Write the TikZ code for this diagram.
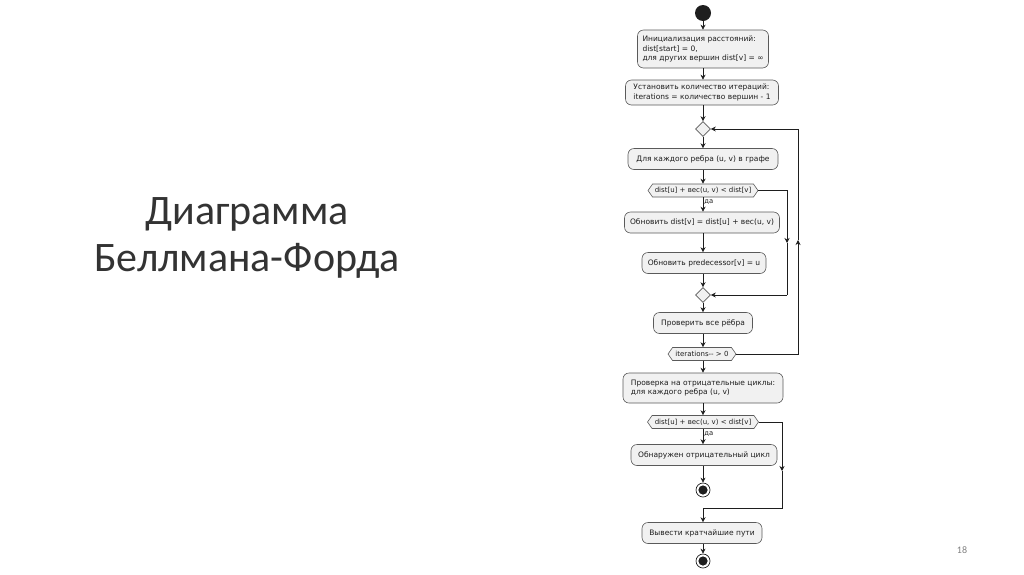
\documentclass[tikz,border=0pt]{standalone}
\usepackage{fontspec}
\setmainfont{Carlito}
\newfontfamily\umlfont{DejaVu Sans}
\usetikzlibrary{shapes.geometric,shapes.symbols,arrows.meta}
\definecolor{boxfill}{HTML}{F1F1F1}
\definecolor{boxline}{HTML}{5A5A5A}
\definecolor{ink}{HTML}{1E1E1E}
\tikzset{
  act/.style={draw=boxline, fill=boxfill, rounded corners=6pt, line width=0.6pt,
    font=\umlfont\fontsize{7.5}{9.2}\selectfont, text=ink, align=left, inner sep=0pt,
    minimum height=21pt},
  cond/.style={draw=boxline, fill=boxfill, line width=0.6pt, shape=signal,
    signal to=west and east, signal pointer angle=110, inner sep=0pt,
    font=\umlfont\fontsize{7}{8}\selectfont, text=ink, minimum height=13pt},
  merge/.style={draw=boxline, fill=boxfill, line width=0.6pt, shape=diamond,
    minimum width=15pt, minimum height=15pt, inner sep=0pt},
  startdot/.style={circle, fill=ink, minimum size=16pt, inner sep=0pt},
  enddot/.style={circle, draw=ink, fill=white, line width=0.7pt, minimum size=14pt, inner sep=0pt,
    path picture={\fill[ink] (path picture bounding box.center) circle (4.6pt);}},
  flow/.style={draw=ink, line width=0.6pt, -{Stealth[length=5pt,width=5pt]}},
  line/.style={draw=ink, line width=0.6pt},
  lbl/.style={font=\umlfont\fontsize{6.8}{8}\selectfont, text=ink, inner sep=1pt, anchor=west}
}
\begin{document}
\begin{tikzpicture}[x=1pt,y=-1pt]
\useasboundingbox (0,0) rectangle (1024,574);
% title
\node[font=\fontsize{42}{47}\selectfont, text=black!80, align=center] (title) at (247,238)
  {Диаграмма\\Беллмана-Форда};
\node[font=\fontsize{10}{12}\selectfont, text=black!50] (pnum) at (962,550) {18};

% diagram
\node[startdot] (start) at (703,13) {};
\node[act, minimum width=131pt, minimum height=38pt] (init) at (703,49)
  {Инициализация расстояний:\\dist[start] = 0,\\для других вершин dist[v] = ∞};
\node[act, minimum width=153pt, minimum height=25pt] (iter) at (702,92.5)
  {Установить количество итераций:\\iterations = количество вершин - 1};
\node[merge] (d1) at (703,129) {};
\node[act, minimum width=150pt] (each) at (703,159) {Для каждого ребра (u, v) в графе};
\node[cond, minimum width=110pt] (h1) at (703,190.5) {dist[u] + вес(u, v) < dist[v]};
\node[act, minimum width=155pt] (upd) at (702,222.5) {Обновить dist[v] = dist[u] + вес(u, v)};
\node[act, minimum width=124pt] (pred) at (704,263) {Обновить predecessor[v] = u};
\node[merge] (d2) at (703,295) {};
\node[act, minimum width=99pt] (all) at (703,323) {Проверить все рёбра};
\node[cond, minimum width=68pt] (h2) at (702,354) {iterations-- > 0};
\node[act, minimum width=160pt, minimum height=30pt] (neg) at (703,388)
  {Проверка на отрицательные циклы:\\для каждого ребра (u, v)};
\node[cond, minimum width=111pt] (h3) at (703,422) {dist[u] + вес(u, v) < dist[v]};
\node[act, minimum width=146pt] (found) at (704,455) {Обнаружен отрицательный цикл};
\node[enddot] (end1) at (703,490) {};
\node[act, minimum width=120pt] (out) at (702,533) {Вывести кратчайшие пути};
\node[enddot] (end2) at (703,561) {};

% main flow
\draw[flow] (start) -- (init.north -| start);
\draw[flow] (init.south -| start) -- (iter.north -| start);
\draw[flow] (iter.south -| start) -- (d1);
\draw[flow] (d1) -- (each.north -| d1);
\draw[flow] (each.south -| d1) -- (h1.north -| d1);
\draw[flow] (h1.south -| d1) -- node[lbl, pos=0.35] {да} (upd.north -| d1);
\draw[flow] (upd.south -| d1) -- (pred.north -| d1);
\draw[flow] (pred.south -| d1) -- (d2);
\draw[flow] (d2) -- (all.north -| d2);
\draw[flow] (all.south -| d2) -- (h2.north -| d2);
\draw[flow] (h2.south -| d2) -- (neg.north -| d2);
\draw[flow] (neg.south -| d2) -- (h3.north -| d2);
\draw[flow] (h3.south -| d2) -- node[lbl, pos=0.35] {да} (found.north -| d2);
\draw[flow] (found.south -| d2) -- (end1);
\draw[flow] (out.south -| d2) -- (end2);

% inner loop (no branch)
\coordinate (a1) at (787,190.5);
\coordinate (a2) at (787,243);
\coordinate (a3) at (787,295);
\draw[flow] (h1.east) -- (a1) -- (a2);
\draw[line] (a2) -- (a3);
\draw[flow] (a3) -- (d2.east);

% outer loop (repeat)
\coordinate (b1) at (798,354);
\coordinate (b2) at (798,240);
\coordinate (b3) at (798,129);
\draw[flow] (h2.east) -- (b1) -- (b2);
\draw[line] (b2) -- (b3);
\draw[flow] (b3) -- (d1.east);

% negative-cycle check, no branch
\coordinate (c1) at (782,422);
\coordinate (c2) at (782,471);
\coordinate (c3) at (782,508);
\coordinate (c4) at (703,508);
\draw[flow] (h3.east) -- (c1) -- (c2);
\draw[line] (c2) -- (c3) -- (c4);
\draw[flow] (c4) -- (out.north -| c4);
\end{tikzpicture}
\end{document}
